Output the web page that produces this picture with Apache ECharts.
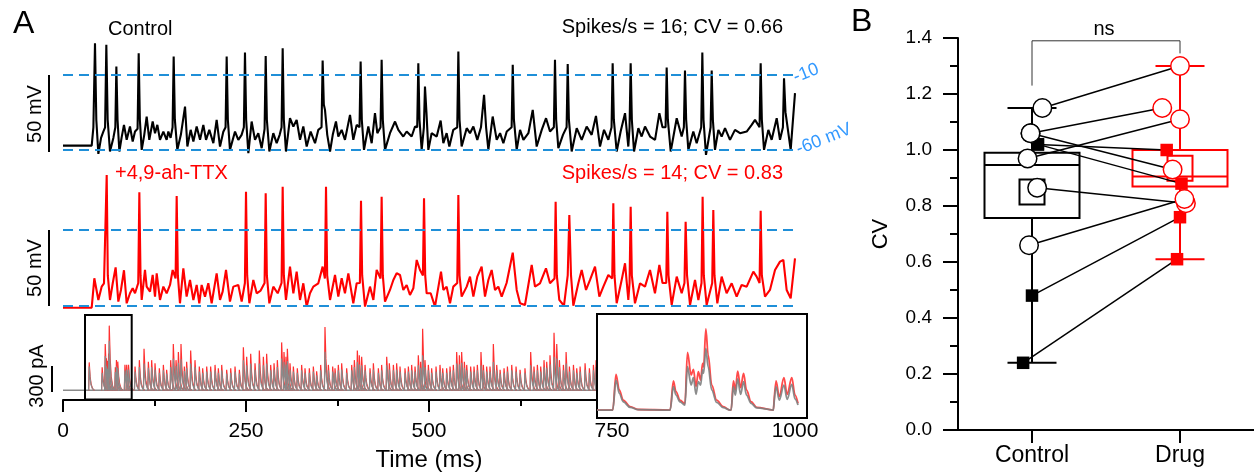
<!DOCTYPE html>
<html><head><meta charset="utf-8">
<script src="https://cdn.jsdelivr.net/npm/echarts@6/dist/echarts.min.js"></script>
<style>html,body{margin:0;padding:0;background:#fff}#c{width:1254px;height:473px}</style>
</head><body><div id="c"></div>
<script>
// ---------------- DATA ----------------
// Control membrane potential trace [time ms, mV]
const ctrlTrace = [[0,-57.1],[39.2,-57.1],[41.5,-45],[43.7,10.5],[45.5,-40],[48.3,-62.6],[52,-52],[55.1,-47.8],[57.5,-45],[59.2,9.4],[61,-40],[64.2,-61],[68.8,-52],[71.5,-45],[72.9,-4.9],[74.5,-40],[77,-61],[80,-52],[83.3,-43.4],[87,-53.3],[91.5,-44.5],[95.2,-54.4],[98.4,-47.8],[101.9,-46],[103.4,3.9],[105,-40],[107.5,-59.9],[111,-50],[114.3,-37.9],[117.9,-53.3],[122.5,-41.2],[125.7,-48.9],[128.9,-43.4],[132.5,-53.3],[137.1,-47.8],[141.6,-53.3],[143.9,-47.8],[147,-52],[149.7,-45],[151.2,1.7],[152.8,-40],[156.2,-59.9],[161,-50],[166.7,-31.3],[169.9,-57.7],[174.4,-46.7],[178.1,-54.4],[182.6,-44.5],[187.2,-53.3],[191.7,-43.4],[195.4,-53.3],[199.9,-46.7],[205.4,-55.5],[209.9,-40.1],[214.5,-57.7],[219,-48],[222.1,-45],[223.6,1.7],[225.2,-40],[228.1,-59.9],[235,-47.8],[239.5,-53.3],[244,-50],[247.1,-45],[248.6,4.3],[250.2,-40],[253.2,-62.1],[257.7,-41.2],[262.3,-53.3],[266.8,-48.9],[271.4,-58.8],[275.4,-46],[276.9,2.1],[278.5,-40],[281.9,-61],[287.3,-48.9],[291.9,-55.5],[296,-50],[298.6,-45],[300.1,7.2],[301.7,-40],[304.6,-61],[310.1,-39],[314.7,-44.5],[319.2,-40.1],[323.8,-53.3],[328.3,-44.5],[332.9,-57.7],[338.3,-47.8],[344.3,-55.5],[348.8,-46.7],[353.2,-45],[354.7,-1],[356.3,-30],[357.9,-33.5],[361,-50],[364.8,-61],[368.5,-50],[372.9,-41.2],[376.1,-51.1],[380.7,-46.7],[385.2,-53.3],[392.1,-36.8],[396.6,-53.3],[401.2,-43.4],[405.1,-45],[406.6,-1.6],[408.2,-40],[411.2,-59.9],[417.1,-44.5],[421.7,-55.5],[426.2,-35.7],[429.4,-48.9],[433.8,-45],[435.3,-0.5],[436.9,-40],[439.9,-59.9],[446.7,-48.9],[453.6,-41.2],[458.1,-46.7],[460.4,-45.6],[464.9,-51.1],[469.5,-47.8],[476.3,-51.1],[480.9,-44.5],[483.9,-45],[485.4,-2.7],[487,-40],[490,-59.9],[493,-45],[494.5,-18.1],[496.5,-35],[499.1,-59.9],[503.6,-48.9],[510.5,-51.1],[515.9,-40.6],[519.6,-55.5],[524.1,-48.9],[527.8,-57.7],[533.2,-46.7],[538.6,-45],[540.1,5.0],[541.7,-40],[544.6,-57.7],[551.5,-45.6],[556,-48.9],[560.6,-44.5],[566,-53.3],[571,-45],[575.2,-23.6],[578,-45],[581.1,-59.9],[587,-37.9],[592.5,-53.3],[597.1,-48.9],[601.6,-55.5],[606.2,-47.8],[612.9,-45],[614.4,-3.8],[616,-40],[619.8,-59.9],[624.4,-46.7],[629,-53.3],[635.8,-48.9],[641.7,-33.5],[647.1,-57.7],[654,-46.7],[659.9,-39],[665.3,-47.8],[670.6,-45],[672.1,-0.5],[673.7,-40],[676.7,-58.8],[683,-50],[688,-45],[689.5,-3.2],[691.1,-40],[694.9,-61],[701.8,-45.6],[708.6,-53.3],[715.4,-44.5],[722.2,-50],[728.1,-37.5],[733.6,-57.7],[739.1,-46.7],[745,-53.3],[749.4,-45],[750.9,-2.7],[752.5,-40],[756.4,-61],[761.8,-47.8],[767.8,-35.7],[772.3,-57.7],[774,-45],[775.5,-2.7],[777.1,-40],[780.1,-61],[786,-45.6],[790.5,-51.1],[795.1,-44.5],[802,-51.1],[808.8,-53.3],[814.7,-35.7],[819,-45],[823.2,-45],[824.7,-5.6],[826.3,-40],[830.2,-61],[838.4,-39],[845.2,-51.1],[848.2,-45],[849.7,-7.6],[851.3,-40],[854.3,-59.9],[861.1,-47.8],[865.7,-55.5],[871.9,-45],[873.4,4.3],[875,-40],[878.4,-63.2],[884.7,-45],[886.2,-7.6],[887.8,-40],[890.7,-59.9],[895.3,-46.7],[899.8,-51.1],[904.4,-45.6],[911.2,-53.3],[918,-46.7],[924.9,-48.9],[934,-47.8],[940.8,-43.4],[945.4,-40.1],[951.6,-45],[953.1,-2.7],[954.7,-40],[957.7,-59.9],[963.6,-46.7],[968.1,-53.3],[975,-39],[979.5,-53.3],[983.5,-45],[985,-12.6],[987,-35],[994.1,-59.9],[1000,-22.5]];

// +4,9-ah-TTX membrane potential trace [time ms, mV]
const drugTrace = [[0,-61.3],[39.2,-61.3],[42.8,-41.9],[48.3,-56.2],[52.8,-47.4],[56,-45.2],[58.2,-44],[59.7,26.3],[61.2,-40],[64.2,-56.2],[68,-45],[71.9,-34.7],[75.6,-57.3],[79.2,-49.6],[83.3,-36.6],[87,-58.4],[91.5,-51.8],[95.2,-48.5],[98.4,-51.8],[102.8,-45],[104.3,14.9],[105.9,-40],[107.5,-56.2],[112,-36.4],[114.3,-47.4],[118.9,-50.7],[122.5,-39.7],[125.7,-54],[128,-38.6],[132.5,-56.2],[137.1,-47.4],[141.6,-51.8],[146.2,-46.3],[149.8,-36.4],[153.8,-42],[155.3,12.4],[156.9,-40],[159.8,-58.4],[164.4,-35.3],[168.9,-54],[173.5,-43],[178.1,-56.2],[182.6,-46.3],[186.2,-58.4],[189.4,-46.3],[194,-54],[198.5,-45.2],[203.1,-58.4],[209.9,-38.6],[214.5,-56.2],[218.1,-50.7],[222.7,-36.4],[228.1,-57.3],[232.7,-47.4],[239.5,-46.3],[244.1,-57.3],[248.5,-45],[250,15.3],[251.6,-40],[254.6,-58.4],[260,-43],[264.6,-51.8],[270,-50],[275.4,-45],[276.9,14.2],[278.5,-40],[281.9,-58.4],[287.3,-47.4],[293.3,-51.8],[298.6,-45],[300.1,18.6],[301.7,-40],[304.6,-56.2],[310.1,-34.2],[314.7,-51.8],[319.2,-37.5],[323.8,-56.2],[328.3,-45.2],[332.9,-60.6],[337.4,-51.8],[342,-47.4],[348.8,-45.2],[354.7,-34.2],[357.8,-42],[359.3,18.6],[360.9,-40],[364.8,-56.2],[371.6,-39.7],[376.1,-54],[380.7,-41.9],[385.2,-51.8],[389.8,-38.6],[396.6,-58.4],[401.2,-45.2],[405.6,-45],[407.1,9.3],[408.7,-40],[412.6,-60.6],[419.4,-47.4],[424,-56.2],[428.5,-36.4],[433.8,-42],[435.3,12],[436.9,-40],[439.9,-57.3],[446.7,-49.6],[451.3,-43],[455.8,-38.6],[460.4,-39.7],[464.9,-49.6],[469.5,-46.3],[474,-52.9],[478.6,-48.5],[483.2,-29.8],[487.7,-36.4],[491.7,-40],[493.2,10.9],[494.8,-40],[496.8,-51.8],[502.3,-51.8],[508.2,-60.6],[516.4,-37.5],[519.6,-49.6],[524.1,-47.4],[528.7,-58.4],[533.2,-47.4],[538.6,-45],[540.1,13.1],[541.7,-40],[544.6,-54],[551.5,-47.4],[556,-40.8],[560.6,-54],[566,-40.8],[571.9,-34.2],[576.5,-54],[581.1,-43],[585.6,-36.4],[590.2,-49.6],[594.7,-47.4],[599.3,-54],[606,-45],[614.4,-25],[619.8,-49.6],[624.4,-58.4],[631.1,-59.5],[640.3,-33.1],[644.8,-47.4],[651.6,-45.2],[659.8,-35.3],[665.3,-45.2],[671.5,-42],[673,8.7],[674.6,-40],[678,-56.2],[684.4,-60],[689.5,-40],[691.7,-0.1],[694,-40],[697.2,-60],[704,-45.2],[708.6,-36.4],[714.5,-49.6],[720,-43],[726.8,-34.2],[732.7,-54],[738.2,-47.4],[745,-39.7],[750.3,-42],[751.8,7.6],[753.4,-40],[756.4,-58.4],[763.2,-43],[767.8,-32],[772.3,-56.2],[774,-45],[775.5,5.4],[777.1,-40],[781.4,-58.4],[788.3,-45.2],[795.1,-47.4],[801.9,-36.4],[808.7,-51.8],[814.7,-33.1],[819,-45],[824.1,-45],[825.6,2.1],[827.2,-40],[831.5,-59.5],[838.4,-40.8],[845.2,-51.8],[849,-45],[850.6,-4.5],[852.5,-40],[856.6,-59.5],[863.4,-43],[868,-56.2],[872.3,-45],[873.8,12],[875.4,-40],[879.3,-59.5],[886.9,-45],[888.4,3.2],[890,-40],[893.9,-58.4],[899.8,-40.8],[906.6,-51.8],[913.5,-45.2],[920.3,-54],[927.1,-46.3],[934,-47.4],[943.1,-37.5],[947.6,-40.8],[951.6,-45],[953.1,2.7],[954.7,-40],[959,-54],[965.8,-49.6],[972.7,-36.4],[979.5,-30.9],[984.1,-29.8],[988.6,-49.6],[994.1,-55.1],[1000,-28.7]];

// Synaptic current events (main view): time (ms), peak with drug (pA, red), peak control (pA, gray)
const curT = [35.8,53.5,57.7,59.3,60.8,62.3,63.2,71.5,73.0,74.8,84.6,87.0,89.5,98.4,104.3,110.7,116.6,121.1,125.7,131.6,137.1,141.6,147.1,150.7,154.4,157.6,161.2,165.8,168.9,174.4,180.3,186.2,190.8,196.3,201.7,207.7,212.2,216.8,223.6,229.1,235.0,240.9,246.4,250.9,256.4,262.3,268.2,273.7,278.2,283.7,288.3,292.8,298.7,301.9,304.6,306.5,310.1,314.7,320.1,326.0,330.6,336.5,342.0,346.5,352.0,357.9,362.5,368.4,371.6,376.1,380.7,387.5,394.4,398.0,402.1,404.8,408.0,412.6,419.4,424.0,430.8,435.3,442.2,445.8,451.3,455.8,460.4,467.2,471.8,476.3,480.9,485.4,488.6,491.3,494.5,499.1,503.6,509.6,515.0,518.7,524.1,528.7,533.2,537.8,541.5,544.6,548.3,551.5,556.9,561.5,566.0,571.0,574.2,578.8,583.3,587.9,592.5,597.1,602.5,607.1,613.0,618.9,624.4,631.1,638.9,643.4,648.0,652.6,657.1,660.8,665.3,670.8,674.5,678.1,683.6,687.3,691.8,697.3,701.8,706.4,713.2,719.1,724.6,728.2];
const curRed = [334,277,553,382,353,439,773,277,362,343,305,305,305,285,361,496,342,361,323,265,304,246,361,554,361,458,554,285,342,477,361,285,265,285,285,304,265,304,246,265,285,246,515,400,438,323,477,400,438,304,323,361,573,458,400,496,323,285,265,304,265,265,285,227,304,758,304,285,265,304,323,265,304,361,477,419,400,304,265,323,265,304,400,323,304,323,285,265,285,304,285,419,342,735,361,304,265,285,304,265,265,285,304,458,419,458,342,304,285,285,304,458,304,285,285,554,304,246,265,285,304,285,246,265,458,285,304,285,361,342,419,688,554,361,304,458,285,304,265,285,323,265,304,361];
const curGray = [286,210,410,286,258,362,591,219,286,267,238,248,248,225,280,320,270,280,250,210,240,200,280,380,290,330,370,230,270,320,280,225,210,225,225,240,210,240,200,210,225,200,360,300,320,250,320,300,320,240,250,280,380,340,310,350,250,225,210,240,210,210,225,180,240,460,240,225,210,240,250,210,240,280,340,310,300,240,210,250,210,240,300,250,240,250,225,210,225,240,225,300,270,420,280,240,210,225,240,210,210,225,240,320,310,330,270,240,225,225,240,300,240,225,225,340,240,200,210,225,240,225,200,210,300,225,240,225,280,270,310,400,380,280,240,320,225,240,210,225,250,210,240,280];

// Enlarged current traces in the inset (30-91 ms): [time ms, pA]
const insetRed = [[30,0],[34.8,0],[35.8,340],[36.8,191],[38.0,95],[40.1,32],[42.5,5],[52.3,0],[53.3,277],[54.1,175],[55.3,95],[56.8,60],[57.6,550],[58.7,334],[59.4,388],[60.2,223],[60.9,366],[61.6,286],[62.2,445],[62.5,413],[63.2,773],[63.9,525],[65.0,238],[66.5,95],[68.5,32],[70.6,0],[70.9,0],[71.6,277],[72.2,191],[72.9,372],[73.8,213],[74.7,350],[75.6,191],[77.0,79],[78.7,25],[83.8,0],[84.0,0],[84.6,277],[85.6,127],[87.0,308],[88.0,150],[89.4,308],[90.4,143],[91.3,64]];
const insetGray = [[30,0],[34.8,0],[35.8,286],[36.8,159],[38.0,79],[40.1,25],[42.5,4],[52.3,0],[53.3,223],[54.1,143],[55.3,79],[56.8,48],[57.6,413],[58.7,238],[59.4,308],[60.2,150],[60.9,270],[61.6,238],[62.2,382],[62.5,350],[63.2,588],[63.9,413],[65.0,191],[66.5,73],[68.5,22],[70.6,0],[70.9,0],[71.6,223],[72.2,143],[72.9,296],[73.8,150],[74.7,270],[75.6,143],[77.0,64],[78.7,20],[83.8,0],[84.0,0],[84.6,223],[85.6,95],[87.0,238],[88.0,102],[89.4,245],[90.4,105],[91.3,48]];

const timeTicks = [0, 250, 500, 750, 1000];
const thresholdsMV = [-10, -60];

// Panel B: CV per cell (paired), marker kind ('o' open circle, 's' filled square)
const groups = ['Control', 'Drug'];
const cvCtrl = [1.15, 1.06, 0.97, 1.02, 1.06, 1.02, 0.865, 0.66, 0.48, 0.24];
const cvDrug = [1.30, 1.15, 1.11, 1.00, 0.93, 0.88, 0.81, 0.825, 0.76, 0.61];
const cellKind = ['o','o','o','s','o','s','o','o','s','s'];
const jitterCtrl = [0.07, -0.01, -0.03, 0.04, -0.01, 0.04, 0.035, -0.02, 0, -0.06];
const jitterDrug = [0, -0.12, 0, -0.09, -0.05, 0.01, 0.04, 0.03, 0, -0.02];
// box stats: [min, Q1, median, Q3, max], mean
const boxCtrl = [0.24, 0.757, 0.946, 0.99, 1.15], meanCtrl = 0.85;
const boxDrug = [0.61, 0.87, 0.905, 1.00, 1.30], meanDrug = 0.935;
const bracket = [[0, 1.23], [0, 1.39], [1, 1.39], [1, 1.345]];

// ---------------- CHART ----------------
const FONT = 'Arial, "Liberation Sans", Helvetica, sans-serif';
const BLUE = '#1f8fd8', BLUE_TXT = '#3399ff', RED = '#ff0000', GRAY = '#8a8a8a';
const chart = echarts.init(document.getElementById('c'), null, {renderer: 'canvas'});

const INSET_X = [30, 91.3];

function glyph(color, lw) {
  const shape = [[-0.8, 0], [0, 1], [1.2, 0.5], [2.6, 0.22], [4.5, 0.07], [7, 0]];
  return function (params, api) {
    const t = api.value(0), a = api.value(1);
    const pts = shape.map(s => api.coord([t + s[0], a * s[1]]));
    const cs = params.coordSys;
    return {
      type: 'polyline', shape: {points: pts},
      style: {stroke: color, lineWidth: lw, fill: null},
      clipPath: {type: 'rect', shape: {x: cs.x, y: cs.y - 10, width: cs.width, height: cs.height + 20}}
    };
  };
}
const redEv = curT.map((t, i) => [t, curRed[i]]);
const grayEv = curT.map((t, i) => [t, curGray[i]]);

const boxColors = ['#000000', RED];
function boxItem(params, api) {
  const x = api.value(0);
  const mn = api.value(1), q1 = api.value(2), md = api.value(3), q3 = api.value(4), mx = api.value(5), mean = api.value(6);
  const px = api.coord([x, md])[0];
  const Y = v => api.coord([x, v])[1];
  const col = boxColors[params.dataIndex];
  const hw = 47.5, cw = 24.5, ms = 12.5;
  const st = {stroke: col, lineWidth: 2, fill: null};
  return {type: 'group', children: [
    {type: 'line', shape: {x1: px, y1: Y(mx), x2: px, y2: Y(q3)}, style: st},
    {type: 'line', shape: {x1: px, y1: Y(q1), x2: px, y2: Y(mn)}, style: st},
    {type: 'line', shape: {x1: px - cw, y1: Y(mx), x2: px + cw, y2: Y(mx)}, style: st},
    {type: 'line', shape: {x1: px - cw, y1: Y(mn), x2: px + cw, y2: Y(mn)}, style: st},
    {type: 'rect', shape: {x: px - hw, y: Y(q3), width: 2 * hw, height: Y(q1) - Y(q3)}, style: st},
    {type: 'line', shape: {x1: px - hw, y1: Y(md), x2: px + hw, y2: Y(md)}, style: st},
    {type: 'rect', shape: {x: px - ms, y: Y(mean) - ms, width: 2 * ms, height: 2 * ms}, style: st}
  ]};
}
function pairItem(params, api) {
  const a = api.coord([api.value(0), api.value(1)]);
  const b = api.coord([api.value(2), api.value(3)]);
  return {type: 'line', shape: {x1: a[0], y1: a[1], x2: b[0], y2: b[1]}, style: {stroke: '#000', lineWidth: 1.5}};
}
const pairs = cvCtrl.map((v, i) => [jitterCtrl[i], v, 1 + jitterDrug[i], cvDrug[i]]);
const pick = (vals, jit, off, kind) => vals.map((v, i) => [off + jit[i], v]).filter((d, i) => cellKind[i] === kind);

const thrLine = {
  silent: true, symbol: ['none', 'none'], label: {show: false},
  lineStyle: {type: [10, 6], color: BLUE, width: 2},
  data: thresholdsMV.map(v => ({yAxis: v}))
};

const txt = (text, x, y, size, color, align, extra) => Object.assign({
  type: 'text', x: x, y: y, z: 60,
  style: {text: text, font: size + 'px ' + FONT, fill: color, textAlign: align, textVerticalAlign: 'middle', align: align, verticalAlign: 'middle'}
}, extra || {});
const vline = (x, y1, y2) => ({type: 'line', z: 60, shape: {x1: x, y1: y1, x2: x, y2: y2}, style: {stroke: '#000', lineWidth: 2}});

const option = {
  animation: false,
  backgroundColor: '#ffffff',
  grid: [
    {left: 63, top: 37.9, width: 732, height: 121.2},
    {left: 63, top: 169.4, width: 732, height: 145.4},
    {left: 63, top: 315, width: 732, height: 88},
    {left: 597, top: 316, width: 201, height: 100},
    {left: 958, top: 38, right: 0, height: 392}
  ],
  xAxis: [
    {gridIndex: 0, type: 'value', min: 0, max: 1000, show: false},
    {gridIndex: 1, type: 'value', min: 0, max: 1000, show: false},
    {gridIndex: 2, type: 'value', min: timeTicks[0], max: timeTicks[timeTicks.length - 1], interval: 250,
      axisLine: {show: true, onZero: false, lineStyle: {color: '#000', width: 2}},
      axisTick: {show: true, length: 12, lineStyle: {color: '#000', width: 2}},
      minorTick: {show: true, splitNumber: 2, length: 6, lineStyle: {color: '#000', width: 2}},
      axisLabel: {fontSize: 21, color: '#000', margin: 21, fontFamily: FONT, formatter: v => String(v)},
      splitLine: {show: false}, minorSplitLine: {show: false},
      name: 'Time (ms)', nameLocation: 'middle', nameGap: 48,
      nameTextStyle: {fontSize: 24, color: '#000', fontFamily: FONT}},
    {gridIndex: 3, type: 'value', min: INSET_X[0], max: INSET_X[1], show: false},
    {gridIndex: 4, type: 'category', data: groups, boundaryGap: true,
      axisLine: {show: true, onZero: false, lineStyle: {color: '#000', width: 2}},
      axisTick: {show: true, alignWithLabel: true, length: 13, lineStyle: {color: '#000', width: 2}},
      axisLabel: {fontSize: 23, color: '#000', margin: 14, fontFamily: FONT},
      splitLine: {show: false}},
    {gridIndex: 4, type: 'value', min: -0.5, max: 1.5, show: false}
  ],
  yAxis: [
    {gridIndex: 0, type: 'value', min: -66, max: 14, show: false},
    {gridIndex: 1, type: 'value', min: -66, max: 30, show: false},
    {gridIndex: 2, type: 'value', min: -115, max: 900, show: false},
    {gridIndex: 3, type: 'value', min: -57, max: 897, show: false},
    {gridIndex: 4, type: 'value', min: 0, max: 1.4, interval: 0.2,
      axisLine: {show: true, onZero: false, lineStyle: {color: '#000', width: 2}},
      axisTick: {show: true, length: 15, lineStyle: {color: '#000', width: 2}},
      minorTick: {show: true, splitNumber: 2, length: 8, lineStyle: {color: '#000', width: 2}},
      axisLabel: {fontSize: 19, color: '#000', margin: 26, fontFamily: FONT, formatter: v => v.toFixed(1)},
      splitLine: {show: false}, minorSplitLine: {show: false},
      name: 'CV', nameLocation: 'middle', nameGap: 66, nameRotate: 90,
      nameTextStyle: {fontSize: 22, color: '#000', fontFamily: FONT}}
  ],
  series: [
    // thresholds
    {type: 'line', xAxisIndex: 0, yAxisIndex: 0, data: [], z: 1, markLine: thrLine},
    {type: 'line', xAxisIndex: 1, yAxisIndex: 1, data: [], z: 1, markLine: thrLine},
    // voltage traces
    {type: 'line', xAxisIndex: 0, yAxisIndex: 0, data: ctrlTrace, showSymbol: false, z: 3,
      lineStyle: {color: '#000', width: 2.1}, itemStyle: {color: '#000'}},
    {type: 'line', xAxisIndex: 1, yAxisIndex: 1, data: drugTrace, showSymbol: false, z: 3,
      lineStyle: {color: RED, width: 2.1}, itemStyle: {color: RED}},
    // main current traces
    {type: 'line', xAxisIndex: 2, yAxisIndex: 2, data: [[timeTicks[0], 0], [timeTicks[4], 0]], showSymbol: false, z: 2,
      lineStyle: {color: GRAY, width: 1.5}},
    {type: 'custom', xAxisIndex: 2, yAxisIndex: 2, data: redEv, encode: {x: 0, y: 1}, renderItem: glyph('#ff3030', 1.2), z: 3},
    {type: 'custom', xAxisIndex: 2, yAxisIndex: 2, data: grayEv, encode: {x: 0, y: 1}, renderItem: glyph(GRAY, 1.2), z: 4},
    // inset current traces
    {type: 'line', xAxisIndex: 3, yAxisIndex: 3, data: insetRed, showSymbol: false, z: 21, smooth: 0.35, smoothMonotone: 'x',
      lineStyle: {color: '#ff4a4a', width: 1.8}},
    {type: 'line', xAxisIndex: 3, yAxisIndex: 3, data: insetGray, showSymbol: false, z: 22, smooth: 0.35, smoothMonotone: 'x',
      lineStyle: {color: '#7f7f7f', width: 1.8, opacity: 0.9}},
    // panel B
    {type: 'custom', xAxisIndex: 5, yAxisIndex: 4, data: [[0].concat(boxCtrl, [meanCtrl]), [1].concat(boxDrug, [meanDrug])],
      encode: {x: 0, y: [1, 2, 3, 4, 5, 6]}, renderItem: boxItem, z: 2},
    {type: 'custom', xAxisIndex: 5, yAxisIndex: 4, data: pairs, encode: {x: [0, 2], y: [1, 3]}, renderItem: pairItem, z: 3},
    {type: 'line', xAxisIndex: 5, yAxisIndex: 4, data: bracket, showSymbol: false, z: 3,
      lineStyle: {color: '#333', width: 1}},
    {type: 'scatter', xAxisIndex: 5, yAxisIndex: 4, data: pick(cvCtrl, jitterCtrl, 0, 's'), symbol: 'rect', symbolSize: 12.5, z: 5,
      itemStyle: {color: '#000', opacity: 1}},
    {type: 'scatter', xAxisIndex: 5, yAxisIndex: 4, data: pick(cvCtrl, jitterCtrl, 0, 'o'), symbol: 'circle', symbolSize: 18.5, z: 6,
      itemStyle: {color: '#fff', borderColor: '#000', borderWidth: 1.5, opacity: 1}},
    {type: 'scatter', xAxisIndex: 5, yAxisIndex: 4, data: pick(cvDrug, jitterDrug, 1, 's'), symbol: 'rect', symbolSize: 12.5, z: 5,
      itemStyle: {color: RED, opacity: 1}},
    {type: 'scatter', xAxisIndex: 5, yAxisIndex: 4, data: pick(cvDrug, jitterDrug, 1, 'o'), symbol: 'circle', symbolSize: 18.5, z: 6,
      itemStyle: {color: '#fff', borderColor: RED, borderWidth: 1.5, opacity: 1}}
  ],
  graphic: {elements: [
    {type: 'rect', z: 10, shape: {x: 597, y: 314, width: 210, height: 104}, style: {fill: '#fff', stroke: '#000', lineWidth: 2}},
    {type: 'rect', z: 60, shape: {x: 85, y: 315, width: 46.7, height: 84.5}, style: {fill: null, stroke: '#000', lineWidth: 2}},
    vline(49, 75, 152), vline(49, 230, 306), vline(52, 366, 392),
    txt('A', 13, 24, 32, '#000', 'left'),
    txt('B', 851, 22, 32, '#000', 'left'),
    txt('Control', 108, 29, 20, '#000', 'left'),
    txt('Spikes/s = 16; CV = 0.66', 783, 27, 20, '#000', 'right'),
    txt('+4,9-ah-TTX', 115, 173, 20, RED, 'left'),
    txt('Spikes/s = 14; CV = 0.83', 783, 173, 20, RED, 'right'),
    txt('-10', 794, 78, 18, BLUE_TXT, 'left', {rotation: 0.38}),
    txt('-60 mV', 797, 150, 18, BLUE_TXT, 'left', {rotation: 0.38}),
    txt('50 mV', 35, 114, 20, '#000', 'center', {rotation: Math.PI / 2}),
    txt('50 mV', 35, 268, 20, '#000', 'center', {rotation: Math.PI / 2}),
    txt('300 pA', 37, 376, 20, '#000', 'center', {rotation: Math.PI / 2}),
    txt('ns', 1104, 29, 20, '#000', 'center')
  ]}
};
chart.setOption(option);
</script>
</body></html>
